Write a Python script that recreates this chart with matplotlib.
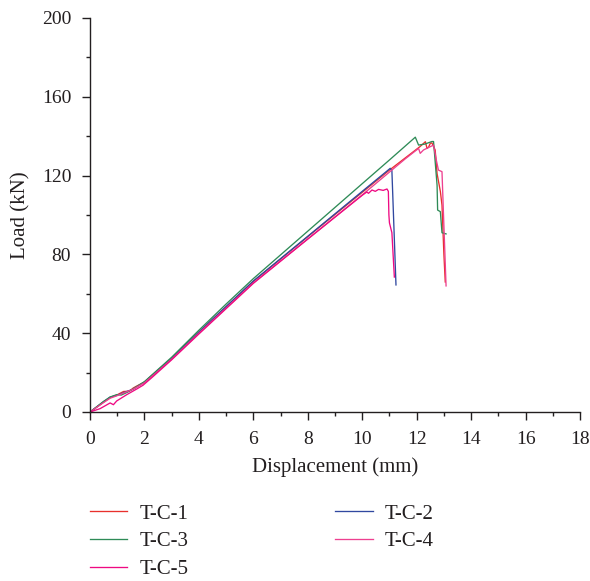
import matplotlib
matplotlib.use("Agg")
import matplotlib.pyplot as plt
from matplotlib.ticker import MultipleLocator

plt.rcParams['font.family'] = ['Liberation Serif', 'DejaVu Serif']

# T-C-1
x1 = [0, 0.5, 0.74, 0.98, 1.23, 1.45, 1.59, 1.72, 2.0, 3.0, 4.0, 6.0, 8.0, 10.0, 11.0, 12.13, 12.32, 12.38, 12.44, 12.5, 12.56, 12.68, 12.75, 12.87, 12.93, 13.0, 13.05]
y1 = [0, 5.0, 7.3, 8.6, 10.4, 10.6, 12.2, 13.2, 15.2, 27.2, 40.5, 66.3, 89.0, 111.5, 122.8, 134.8, 137.2, 133.8, 134.5, 136.4, 136.6, 133.0, 121.0, 112.0, 105.0, 80.0, 66.0]
# T-C-2
x2 = [0, 0.5, 0.74, 0.98, 1.23, 1.59, 2.0, 3.0, 4.0, 6.0, 8.0, 10.0, 11.03, 11.09, 11.24]
y2 = [0, 5.2, 7.6, 8.4, 9.8, 11.6, 15.2, 27.3, 40.6, 66.5, 89.2, 112.0, 123.7, 122.5, 64.5]
# T-C-3
x3 = [0, 0.5, 0.74, 0.98, 1.15, 1.4, 1.59, 2.0, 3.0, 4.0, 5.0, 6.0, 8.0, 10.0, 11.03, 11.95, 12.07, 12.3, 12.56, 12.62, 12.68, 12.75, 12.77, 12.87, 12.93, 13.08]
y3 = [0, 5.4, 7.6, 8.8, 8.6, 10.2, 11.8, 15.4, 27.8, 41.5, 54.8, 67.7, 91.8, 115.9, 128.3, 139.5, 135.5, 136.0, 137.3, 137.3, 127.0, 115.0, 102.5, 101.7, 91.0, 90.4]
# T-C-4
x4 = [0, 0.5, 0.74, 0.98, 1.23, 1.59, 2.0, 3.0, 4.0, 6.0, 8.0, 10.0, 11.58, 12.07, 12.13, 12.25, 12.62, 12.72, 12.8, 12.93, 12.99, 13.08]
y4 = [0, 4.8, 7.0, 8.2, 9.6, 11.6, 14.8, 26.8, 40.0, 65.5, 87.8, 110.2, 128.5, 133.8, 131.3, 133.0, 135.5, 128.0, 122.8, 122.0, 98.5, 64.0]
# T-C-5
x5 = [0, 0.37, 0.74, 0.86, 0.98, 1.35, 1.72, 1.95, 2.3, 3.0, 4.0, 6.0, 8.0, 10.0, 10.17, 10.23, 10.36, 10.48, 10.6, 10.77, 10.91, 10.96, 10.98, 11.0, 11.09, 11.18]
y5 = [0, 1.7, 4.6, 3.7, 5.6, 8.8, 11.7, 13.6, 17.8, 26.5, 39.6, 65.3, 87.8, 110.0, 111.7, 111.0, 112.7, 112.0, 113.0, 112.5, 113.2, 112.0, 100.0, 96.0, 91.0, 68.5]

labels = ['T-C-1', 'T-C-2', 'T-C-3', 'T-C-4', 'T-C-5']
colors = ['#e8302c', '#3048a0', '#2e8b57', '#ee4090', '#ee0a82']
xs = [x1, x2, x3, x4, x5]
ys = [y1, y2, y3, y4, y5]

txt = '#231f20'
fig = plt.figure(figsize=(5.9, 5.81), dpi=100)
ax = fig.add_axes([90 / 590, 1 - 412 / 581, 490 / 590, 394 / 581])

lines = []
for x, y, c, lab in zip(xs, ys, colors, labels):
    ln, = ax.plot(x, y, color=c, lw=0.95, label=lab)
    lines.append(ln)

ax.set_xlim(0, 18)
ax.set_ylim(0, 200)
ax.xaxis.set_major_locator(MultipleLocator(2))
ax.xaxis.set_minor_locator(MultipleLocator(1))
ax.yaxis.set_major_locator(MultipleLocator(40))
ax.yaxis.set_minor_locator(MultipleLocator(20))
ax.spines['top'].set_visible(False)
ax.spines['right'].set_visible(False)
for s in ['left', 'bottom']:
    ax.spines[s].set_linewidth(1.0)
    ax.spines[s].set_color(txt)
ax.tick_params(which='major', direction='out', length=6, width=1.0, labelsize=14,
               color=txt, labelcolor=txt, pad=7.5)
ax.tick_params(which='minor', direction='out', length=3, width=1.0, color=txt)
ax.set_xlabel('Displacement (mm)', fontsize=15, color=txt, labelpad=7)
ax.set_ylabel('Load (kN)', fontsize=15, color=txt, labelpad=8)

order = [0, 2, 4, 1, 3]
leg = fig.legend([lines[i] for i in order], [labels[i] for i in order],
                 ncol=2, loc='upper left', bbox_to_anchor=(90 / 590, 1 - 504 / 581),
                 frameon=False, fontsize=15, handlelength=1.78, handletextpad=0.6,
                 columnspacing=7.05, labelspacing=0.40, borderpad=0, borderaxespad=0)
for t in leg.get_texts():
    t.set_color(txt)

fig.savefig('out.png', dpi=100)
